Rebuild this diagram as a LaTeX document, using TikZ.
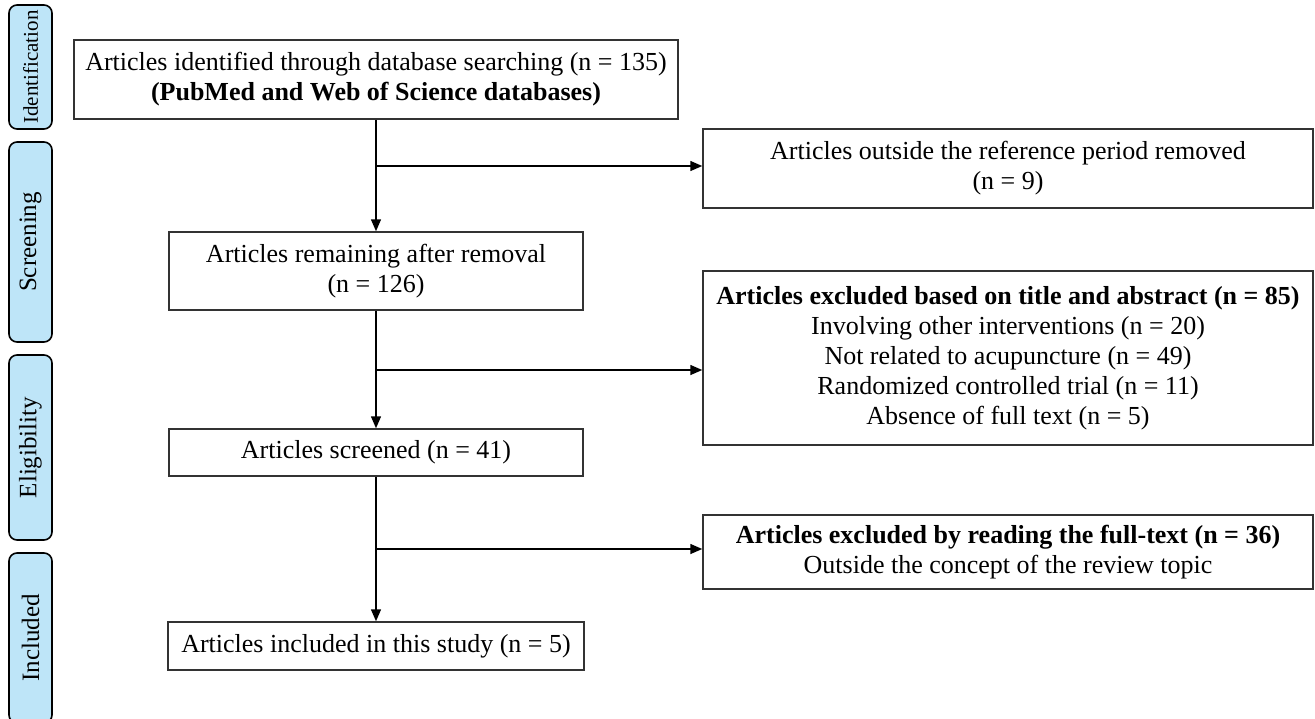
\documentclass[tikz,border=0pt]{standalone}
\usepackage{fontspec}
\setmainfont{Liberation Serif}
\usetikzlibrary{arrows.meta}
\definecolor{phasefill}{RGB}{190,229,248}
\begin{document}
\begin{tikzpicture}[x=1pt,y=-1pt,
  box/.style n args={2}{draw=black!80, line width=1.5pt, minimum width=#1, minimum height=#2,
    inner sep=0pt, align=center, font=\fontsize{26}{30}\selectfont},
  phase/.style n args={2}{draw=black, line width=1.6pt, fill=phasefill, rounded corners=8pt,
    rotate=90, minimum width=#1, minimum height=43, inner sep=0pt, font=\fontsize{#2}{#2}\selectfont},
  arr/.style={draw=black, line width=1.5pt, -{Triangle[length=12pt,width=10pt]}},
  ln/.style={draw=black, line width=1.5pt}
]
\useasboundingbox (0,0) rectangle (1315,718);

% phase labels
\node[phase={124}{21}] (pid) at (30.5,67) {Identification};
\node[phase={200}{25}] (psc) at (30.5,242) {Screening};
\node[phase={185}{25}] (pel) at (30.5,447.5) {Eligibility};
\node[phase={170}{25}] (pin) at (30.5,638) {Included};

% main column
\node[box={604}{79}] (b1) at (376,79.5) {Articles identified through database searching (n = 135)\\ \textbf{(PubMed and Web of Science databases)}};
\node[box={414}{78}] (b2) at (376,271) {Articles remaining after removal\\ (n = 126)};
\node[box={414}{47}] (b3) at (376,452.5) {Articles screened (n = 41)};
\node[box={416}{48}] (b4) at (376,646) {Articles included in this study (n = 5)};

% right column
\node[box={610}{79}] (r1) at (1008,168.5) {Articles outside the reference period removed\\ (n = 9)};
\node[box={610}{174}] (r2) at (1008,358) {\textbf{Articles excluded based on title and abstract (n = 85)}\\ Involving other interventions (n = 20)\\ Not related to acupuncture (n = 49)\\ Randomized controlled trial (n = 11)\\ Absence of full text (n = 5)};
\node[box={610}{74}] (r3) at (1008,552) {\textbf{Articles excluded by reading the full-text (n = 36)}\\ Outside the concept of the review topic};

% connectors
\coordinate (j1) at (376,166);
\coordinate (j2) at (376,370);
\coordinate (j3) at (376,549);
\draw[arr] (b1.south) -- (b2.north);
\draw[arr] (b2.south) -- (b3.north);
\draw[arr] (b3.south) -- (b4.north);
\draw[arr] (j1) -- (r1.west |- j1);
\draw[arr] (j2) -- (r2.west |- j2);
\draw[arr] (j3) -- (r3.west |- j3);
\end{tikzpicture}
\end{document}
